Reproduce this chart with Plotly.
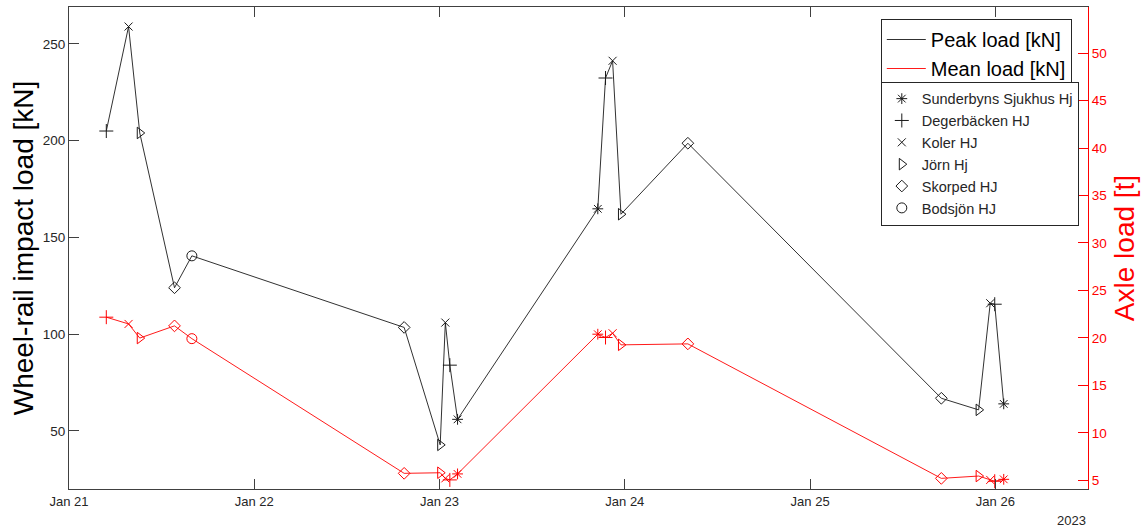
import plotly.graph_objects as go

# ---- data ----
times = [
    "2023-01-21 04:50", "2023-01-21 07:43", "2023-01-21 09:10", "2023-01-21 13:40",
    "2023-01-21 15:55", "2023-01-22 19:25", "2023-01-23 00:05", "2023-01-23 00:45",
    "2023-01-23 01:20", "2023-01-23 02:20", "2023-01-23 20:30", "2023-01-23 21:30",
    "2023-01-23 22:25", "2023-01-23 23:30", "2023-01-24 08:10", "2023-01-25 17:00",
    "2023-01-25 21:50", "2023-01-25 23:20", "2023-01-25 23:55", "2023-01-26 01:05",
]
stations = [
    "Degerbäcken HJ", "Koler HJ", "Jörn Hj", "Skorped HJ",
    "Bodsjön HJ", "Skorped HJ", "Jörn Hj", "Koler HJ",
    "Degerbäcken HJ", "Sunderbyns Sjukhus Hj", "Sunderbyns Sjukhus Hj", "Degerbäcken HJ",
    "Koler HJ", "Jörn Hj", "Skorped HJ", "Skorped HJ",
    "Jörn Hj", "Koler HJ", "Degerbäcken HJ", "Sunderbyns Sjukhus Hj",
]
peak_kN = [205, 259, 204, 124, 140.5, 103.5, 42.8, 106, 84, 56,
           164.8, 232.4, 241.3, 162, 198.7, 66.9, 60.9, 116, 115.5, 64]
mean_kN = [108.8, 105.3, 98, 104.3, 97.7, 28.1, 28.4, 25.5, 24.7, 27.8,
           100, 98.3, 100.5, 94.5, 95, 25.5, 26.7, 24.7, 24, 25]

station_order = ["Sunderbyns Sjukhus Hj", "Degerbäcken HJ", "Koler HJ",
                 "Jörn Hj", "Skorped HJ", "Bodsjön HJ"]
station_symbols = ["asterisk-open", "cross-thin-open", "x-thin-open",
                   "triangle-right-open", "diamond-open", "circle-open"]
symbol_sizes = [9, 10, 8, 10, 9, 10]

KN_PER_T = 9.81 / 2  # wheel load (kN) per tonne of axle load
left_range = [20, 269.1]
right_range = [left_range[0] / KN_PER_T, left_range[1] / KN_PER_T]

BLACK = "#1a1a1a"
RED = "#ff0000"
AXC = "#404040"
FONT = "Liberation Sans, Arial, Helvetica, sans-serif"

W, H = 1148, 532
ML, MR, MT, MB = 68.5, 60, 7, 43
PW, PH = W - ML - MR, H - MT - MB


def px_to_paper(xp, yp):
    return (xp - ML) / PW, (H - MB - yp) / PH


fig = go.Figure()

fig.add_trace(go.Scatter(
    x=times, y=peak_kN, mode="lines", name="Peak load [kN]",
    line=dict(color=BLACK, width=0.9), legend="legend",
))
fig.add_trace(go.Scatter(
    x=times, y=[v / KN_PER_T for v in mean_kN], mode="lines", name="Mean load [kN]",
    line=dict(color=RED, width=0.9), yaxis="y2", legend="legend",
))

for name, sym, sz in zip(station_order, station_symbols, symbol_sizes):
    idx = [i for i, s in enumerate(stations) if s == name]
    xs = [times[i] for i in idx]
    fig.add_trace(go.Scatter(
        x=xs, y=[peak_kN[i] for i in idx], mode="markers", name=name,
        marker=dict(symbol=sym, size=sz, color=BLACK, line=dict(color=BLACK, width=1)),
        legend="legend2",
    ))
    fig.add_trace(go.Scatter(
        x=xs, y=[mean_kN[i] / KN_PER_T for i in idx], mode="markers", name=name,
        marker=dict(symbol=sym, size=sz, color=RED, line=dict(color=RED, width=1)),
        yaxis="y2", showlegend=False,
    ))

l1x, l1y = px_to_paper(880.7, 19)
l2x, l2y = px_to_paper(880.7, 81.7)

fig.update_layout(
    width=W, height=H, autosize=False,
    margin=dict(l=ML, r=MR, t=MT, b=MB, autoexpand=False),
    plot_bgcolor="white", paper_bgcolor="white",
    font=dict(family=FONT, size=13.5, color="#262626"),
    xaxis=dict(
        type="date", range=["2023-01-21 00:00", "2023-01-26 12:00"],
        tick0="2023-01-21", dtick=86400000, tickformat="%b %-d",
        ticks="inside", ticklen=10, tickcolor=AXC, tickwidth=1,
        showline=True, linecolor=AXC, linewidth=1, mirror="ticks",
        showgrid=False, zeroline=False, tickfont=dict(size=13, color="#262626"),
        ticklabelstandoff=0, automargin=False,
    ),
    yaxis=dict(
        range=left_range, tickvals=[50, 100, 150, 200, 250],
        ticks="inside", ticklen=10, tickcolor=AXC, tickwidth=1,
        showline=True, linecolor=AXC, linewidth=1,
        showgrid=False, zeroline=False,
        tickfont=dict(size=13.5, color="#262626"),
        title=dict(text="Wheel-rail impact load [kN]", font=dict(size=28, color="black"), standoff=0),
        automargin=False,
    ),
    yaxis2=dict(
        range=right_range, overlaying="y", side="right",
        tickvals=[5, 10, 15, 20, 25, 30, 35, 40, 45, 50],
        ticks="inside", ticklen=10, tickcolor=RED, tickwidth=1,
        showline=True, linecolor=RED, linewidth=1,
        showgrid=False, zeroline=False,
        tickfont=dict(size=13.5, color=RED),
        title=dict(text="Axle load [t]", font=dict(size=28, color=RED), standoff=8),
        automargin=False,
    ),
    legend=dict(
        x=l1x, y=l1y, xanchor="left", yanchor="top",
        bgcolor="white", bordercolor="#262626", borderwidth=1,
        font=dict(size=20, color="black"), itemwidth=39,
    ),
    legend2=dict(
        x=l2x, y=l2y, xanchor="left", yanchor="top",
        bgcolor="white", bordercolor="#262626", borderwidth=1,
        font=dict(size=14.5, color="#262626"),
    ),
    annotations=[dict(
        text="2023", xref="paper", yref="paper", x=1, y=px_to_paper(0, 520)[1],
        xanchor="right", yanchor="middle", showarrow=False,
        font=dict(size=13, color="#262626"),
    )],
)

fig.write_html(
    "out.html",
    config={"displayModeBar": False},
    post_script="document.body.style.margin='0';document.body.style.overflow='hidden';",
)
